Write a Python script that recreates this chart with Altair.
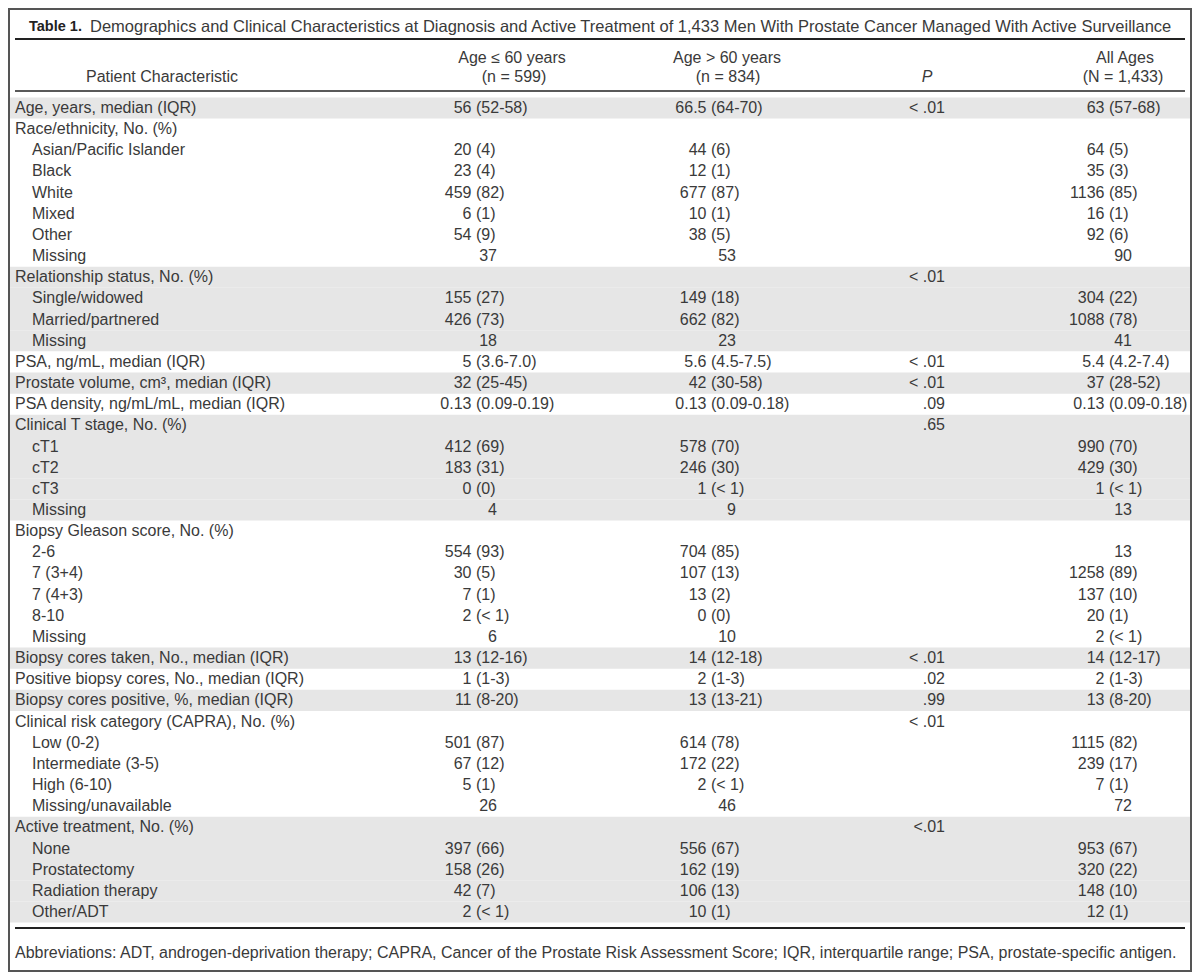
import altair as alt
import pandas as pd

# ---------------- data ----------------
ROW_LABELS = [
    "Age, years, median (IQR)",
    "Race/ethnicity, No. (%)",
    "Asian/Pacific Islander", "Black", "White", "Mixed", "Other", "Missing",
    "Relationship status, No. (%)",
    "Single/widowed", "Married/partnered", "Missing",
    "PSA, ng/mL, median (IQR)",
    "Prostate volume, cm³, median (IQR)",
    "PSA density, ng/mL/mL, median (IQR)",
    "Clinical T stage, No. (%)",
    "cT1", "cT2", "cT3", "Missing",
    "Biopsy Gleason score, No. (%)",
    "2-6", "7 (3+4)", "7 (4+3)", "8-10", "Missing",
    "Biopsy cores taken, No., median (IQR)",
    "Positive biopsy cores, No., median (IQR)",
    "Biopsy cores positive, %, median (IQR)",
    "Clinical risk category (CAPRA), No. (%)",
    "Low (0-2)", "Intermediate (3-5)", "High (6-10)", "Missing/unavailable",
    "Active treatment, No. (%)",
    "None", "Prostatectomy", "Radiation therapy", "Other/ADT",
]
INDENT = [0, 0, 1, 1, 1, 1, 1, 1, 0, 1, 1, 1, 0, 0, 0, 0, 1, 1, 1, 1,
          0, 1, 1, 1, 1, 1, 0, 0, 0, 0, 1, 1, 1, 1, 0, 1, 1, 1, 1]
SHADED = [1, 0, 0, 0, 0, 0, 0, 0, 1, 1, 1, 1, 0, 1, 0, 1, 1, 1, 1, 1,
          0, 0, 0, 0, 0, 0, 1, 0, 1, 0, 0, 0, 0, 0, 1, 1, 1, 1, 1]

AGE_LE60 = [
    "56 (52-58)", "", "20 (4)", "23 (4)", "459 (82)", "6 (1)", "54 (9)", "37",
    "", "155 (27)", "426 (73)", "18",
    "5 (3.6-7.0)", "32 (25-45)", "0.13 (0.09-0.19)",
    "", "412 (69)", "183 (31)", "0 (0)", "4",
    "", "554 (93)", "30 (5)", "7 (1)", "2 (< 1)", "6",
    "13 (12-16)", "1 (1-3)", "11 (8-20)",
    "", "501 (87)", "67 (12)", "5 (1)", "26",
    "", "397 (66)", "158 (26)", "42 (7)", "2 (< 1)",
]
AGE_GT60 = [
    "66.5 (64-70)", "", "44 (6)", "12 (1)", "677 (87)", "10 (1)", "38 (5)", "53",
    "", "149 (18)", "662 (82)", "23",
    "5.6 (4.5-7.5)", "42 (30-58)", "0.13 (0.09-0.18)",
    "", "578 (70)", "246 (30)", "1 (< 1)", "9",
    "", "704 (85)", "107 (13)", "13 (2)", "0 (0)", "10",
    "14 (12-18)", "2 (1-3)", "13 (13-21)",
    "", "614 (78)", "172 (22)", "2 (< 1)", "46",
    "", "556 (67)", "162 (19)", "106 (13)", "10 (1)",
]
P_VALUES = [
    "< .01", "", "", "", "", "", "", "",
    "< .01", "", "", "",
    "< .01", "< .01", ".09",
    ".65", "", "", "", "",
    "", "", "", "", "", "",
    "< .01", ".02", ".99",
    "< .01", "", "", "", "",
    "<.01", "", "", "", "",
]
ALL_AGES = [
    "63 (57-68)", "", "64 (5)", "35 (3)", "1136 (85)", "16 (1)", "92 (6)", "90",
    "", "304 (22)", "1088 (78)", "41",
    "5.4 (4.2-7.4)", "37 (28-52)", "0.13 (0.09-0.18)",
    "", "990 (70)", "429 (30)", "1 (< 1)", "13",
    "", "13", "1258 (89)", "137 (10)", "20 (1)", "2 (< 1)",
    "14 (12-17)", "2 (1-3)", "13 (8-20)",
    "", "1115 (82)", "239 (17)", "7 (1)", "72",
    "", "953 (67)", "320 (22)", "148 (10)", "12 (1)",
]

TITLE_BOLD = "Table 1."
TITLE_REST = ("Demographics and Clinical Characteristics at Diagnosis and Active Treatment "
              "of 1,433 Men With Prostate Cancer Managed With Active Surveillance")
HEAD_CHAR = "Patient Characteristic"
HEAD_C1 = ["Age ≤ 60 years", "(n = 599)"]
HEAD_C2 = ["Age > 60 years", "(n = 834)"]
HEAD_P = "P"
HEAD_ALL = ["All Ages", "(N = 1,433)"]
FOOTNOTE = ("Abbreviations: ADT, androgen-deprivation therapy; CAPRA, Cancer of the Prostate "
            "Risk Assessment Score; IQR, interquartile range; PSA, prostate-specific antigen.")

# ---------------- layout / style ----------------
W, H = 1184, 964
FONT = "Liberation Sans"
FS = 16
TXT = "#3a3a3a"
SHADE = "#e6e6e6"
N = len(ROW_LABELS)
yscale = alt.Scale(domain=[0, N - 1], range=[100, 904])

labels = pd.DataFrame({"row": range(N), "label": ROW_LABELS, "indent": INDENT, "shaded": SHADED})


def split_vals(vals):
    recs = []
    for i, v in enumerate(vals):
        if not v:
            continue
        if " (" in v:
            m, p = v.split(" (", 1)
            recs.append({"row": i, "main": m, "paren": "(" + p, "kind": "split"})
        else:
            recs.append({"row": i, "main": v, "paren": "", "kind": "single"})
    return pd.DataFrame(recs)


def txt(df, field, x, align="left", **kw):
    kw.setdefault("color", TXT)
    return alt.Chart(df).mark_text(
        align=align, baseline="middle", font=FONT, fontSize=FS, **kw
    ).encode(
        x=alt.value(x),
        y=alt.Y("row:Q", scale=yscale, axis=None),
        text=f"{field}:N",
    )


layers = []

# shading
layers.append(
    alt.Chart(labels).transform_filter("datum.shaded == 1").transform_calculate(
        lo="datum.row - 0.5", hi="datum.row + 0.5"
    ).mark_rect(color=SHADE).encode(
        x=alt.value(0), x2=alt.value(W),
        y=alt.Y("lo:Q", scale=yscale, axis=None), y2="hi:Q",
    )
)

# row labels
layers.append(txt(labels[labels.indent == 0], "label", 7))
layers.append(txt(labels[labels.indent == 1], "label", 24))

# value columns: (values, paren anchor, right edge for single numbers)
for vals, anchor, redge in [(AGE_LE60, 468, 489), (AGE_GT60, 703, 728), (ALL_AGES, 1101, 1124)]:
    d = split_vals(vals)
    ds = d[d.kind == "split"]
    dn = d[d.kind == "single"]
    layers.append(txt(ds, "main", anchor - 4.5, align="right"))
    layers.append(txt(ds, "paren", anchor, align="left"))
    layers.append(txt(dn, "main", redge, align="right"))

pdf = pd.DataFrame({"row": range(N), "p": P_VALUES})
pdf = pdf[pdf.p != ""]
layers.append(txt(pdf, "p", 937, align="right"))

# header and title texts
one = pd.DataFrame({"a": [0]})


def fixed_text(s, x, y, align="center", fs=FS, font=FONT, **kw):
    kw.setdefault("color", TXT)
    return alt.Chart(one).mark_text(
        text=s, align=align, baseline="middle", font=font, fontSize=fs, **kw
    ).encode(x=alt.value(x), y=alt.value(y))


layers.append(fixed_text(TITLE_BOLD, 21, 19, align="left", fs=14.5,
                         fontWeight="bold", color="#222222"))
layers.append(fixed_text(TITLE_REST, 82, 19, align="left", fs=16.5))
layers.append(fixed_text(HEAD_CHAR, 154, 69))
layers.append(fixed_text(HEAD_C1[0], 504, 50))
layers.append(fixed_text(HEAD_C1[1], 506, 69))
layers.append(fixed_text(HEAD_C2[0], 719, 50))
layers.append(fixed_text(HEAD_C2[1], 720, 69))
layers.append(fixed_text(HEAD_P, 919, 69, fontStyle="italic"))
layers.append(fixed_text(HEAD_ALL[0], 1117, 50))
layers.append(fixed_text(HEAD_ALL[1], 1115, 69))
layers.append(fixed_text(FOOTNOTE, 7, 945, align="left"))


def hrule(y, sw):
    return alt.Chart(one).mark_rule(color="#222222", strokeWidth=sw).encode(
        x=alt.value(7), x2=alt.value(1177), y=alt.value(y)
    )


layers.append(hrule(31, 2))
layers.append(hrule(83, 1.5))
layers.append(hrule(920, 2))

# outer frame
layers.append(
    alt.Chart(one).mark_rect(filled=False, stroke="#555555", strokeWidth=2).encode(
        x=alt.value(1), x2=alt.value(W - 1), y=alt.value(1), y2=alt.value(H - 1)
    )
)

chart = alt.layer(*layers).properties(
    width=W, height=H, padding=0, autosize=alt.AutoSizeParams(type="none"),
    background="white",
).configure_view(strokeWidth=0)

chart.save("out.html", embed_options={"renderer": "svg", "actions": False})
